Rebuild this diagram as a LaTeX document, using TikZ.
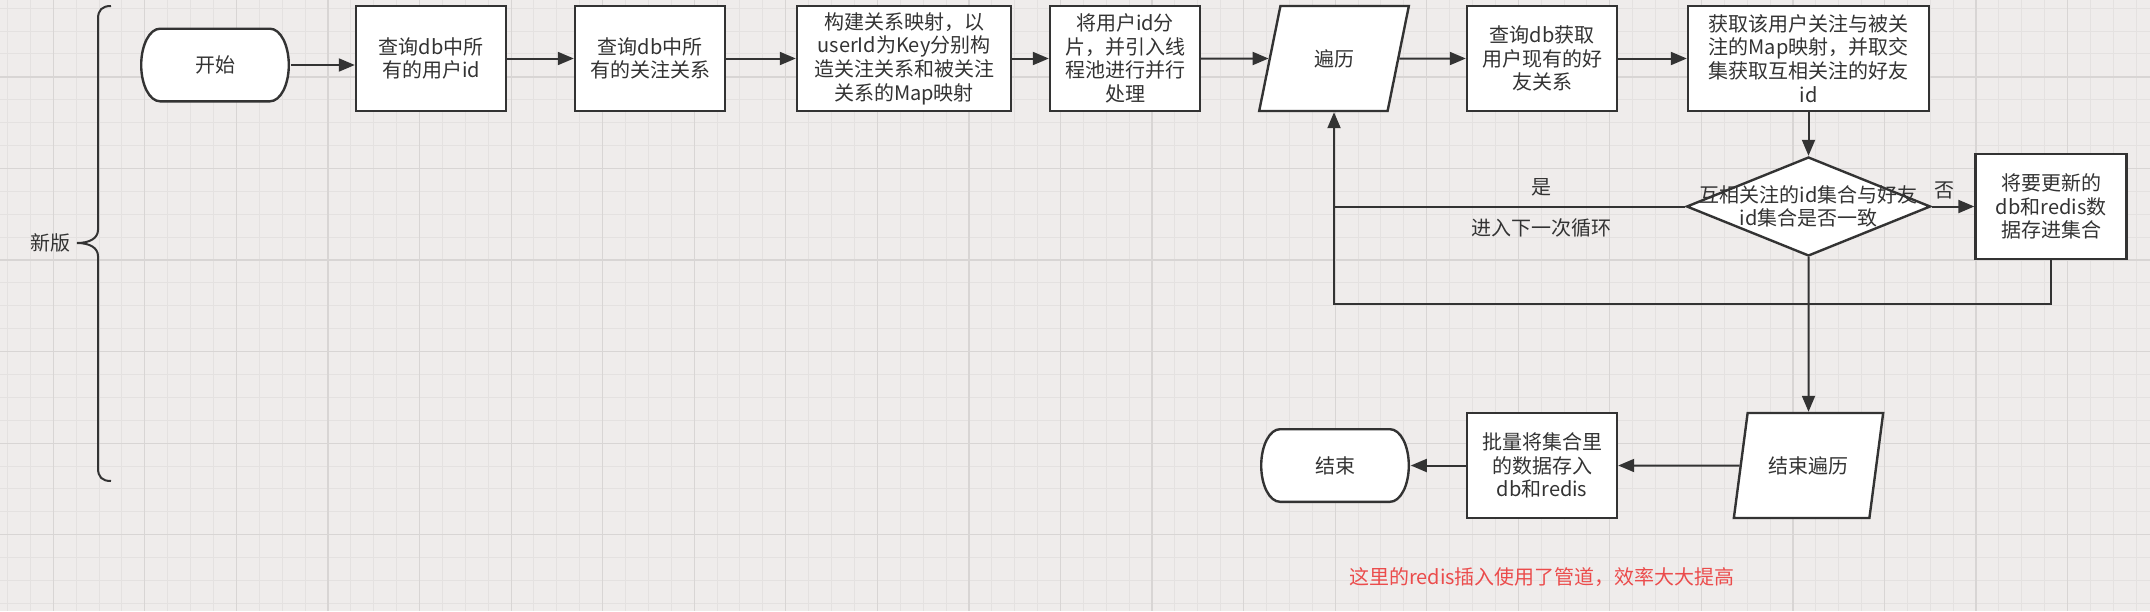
\documentclass[tikz,border=0pt]{standalone}
\usepackage{fontspec}
\setmainfont{Noto Sans CJK SC}
\usetikzlibrary{arrows.meta,positioning,shapes.geometric}

\definecolor{bggray}{RGB}{239,236,235}
\definecolor{gridminor}{RGB}{228,225,224}
\definecolor{gridmajor}{RGB}{216,213,212}
\definecolor{linegray}{RGB}{51,51,51}
\definecolor{notered}{RGB}{235,76,76}

\begin{document}
\begin{tikzpicture}[thick,node distance=108pt,>={Triangle[length=8pt,width=6.5pt]},text=linegray,font=\fontsize{10pt}{11.85pt}\selectfont]

\tikzstyle{proc}=[draw=linegray,line width=1.2pt,fill=white,align=center,minimum width=75pt,minimum height=52.5pt,inner sep=1pt]
\tikzstyle{term}=[minimum width=75pt,minimum height=37.5pt,path picture={
  \draw[linegray,line width=1.2pt,fill=white]
    ([xshift=10pt,yshift=-0.6pt]path picture bounding box.north west) -- ([xshift=-10pt,yshift=-0.6pt]path picture bounding box.north east)
    arc[start angle=90,end angle=-90,x radius=9.4pt,y radius=18.15pt]
    -- ([xshift=10pt,yshift=0.6pt]path picture bounding box.south west)
    arc[start angle=270,end angle=90,x radius=9.4pt,y radius=18.15pt] -- cycle;}]
\tikzstyle{io}=[trapezium,trapezium left angle=71.6,trapezium right angle=108.4,trapezium stretches=true,draw=linegray,line width=1.2pt,fill=white,minimum width=75pt,minimum height=52.5pt]
\tikzstyle{cond}=[diamond,draw=linegray,line width=1.2pt,fill=white,minimum width=122pt,minimum height=49.5pt,inner sep=0pt]
\tikzstyle{flow}=[->,draw=linegray,line width=1pt]

%background grid
\useasboundingbox (0,0) rectangle (1075pt,-305.5pt);
\fill[bggray] (0,0) rectangle (1075pt,-305.5pt);
\begin{scope}[x=0.5pt,y=-0.5pt]
\foreach \i in {0,...,93} \draw[gridminor,line width=0.5pt] ({7.5+22.89*\i},0) -- ({7.5+22.89*\i},611);
\foreach \j in {0,...,26} \draw[gridminor,line width=0.5pt] (0,{8.2+22.89*\j}) -- (2150,{8.2+22.89*\j});
\foreach \i in {0,...,22} \draw[gridmajor,line width=0.6pt] ({53.3+91.56*\i},0) -- ({53.3+91.56*\i},611);
\foreach \j in {0,...,5} \draw[gridmajor,line width=0.6pt] (0,{76.9+91.56*\j}) -- (2150,{76.9+91.56*\j});
\end{scope}

%main row
\node[term] (start) at (107.5pt,-32.5pt) {开始};
\node[proc] (qusers) [right of=start,yshift=3.25pt] {查询db中所\\有的用户id};
\node[proc] (qfollow) [right of=qusers,node distance=109.5pt] {查询db中所\\有的关注关系};
\node[proc,minimum width=107pt] (buildmap) [right of=qfollow,node distance=127pt] {构建关系映射，以\\userId为Key分别构\\造关注关系和被关注\\关系的Map映射};
\node[proc] (shard) [right of=buildmap,node distance=110.5pt] {将用户id分\\片，并引入线\\程池进行并行\\处理};
\node[io] (loop) [right of=shard,node distance=104.5pt] {遍历};
\node[proc] (qfriend) [right of=loop,node distance=104pt] {查询db获取\\用户现有的好\\友关系};
\node[proc,minimum width=120.5pt] (mutual) [right of=qfriend,node distance=133.25pt] {获取该用户关注与被关\\注的Map映射，并取交\\集获取互相关注的好友\\id};

\draw[flow] (start.east) -- (start.east -| qusers.west);
\draw[flow] (qusers) -- (qfollow);
\draw[flow] (qfollow) -- (buildmap);
\draw[flow] (buildmap) -- (shard);
\draw[flow] (shard) -- (loop);
\draw[flow] (loop) -- (qfriend);
\draw[flow] (qfriend) -- (mutual);

%check and update
\node[cond] (check) [below of=mutual,node distance=74pt] {};
\node[align=center] (checktxt) at (check) {互相关注的id集合与好友\\id集合是否一致};
\node[proc,minimum width=75.5pt] (collect) [right of=check,node distance=121.25pt] {将要更新的\\db和redis数\\据存进集合};

\coordinate (turn) at (check.west -| loop.south);
\coordinate (merge) at ([yshift=-22pt]collect.south -| loop.south);

\draw[flow] (mutual) -- (check);
\draw[flow] (check) -- node[above,pos=0.3] {否} (collect);
\draw[flow] (check.west) -- node[above=1.5pt,pos=0.41] {是} node[below=2.5pt,pos=0.41] {进入下一次循环} (turn) -- (loop.south);
\draw[linegray,line width=1pt] (collect.south) |- (merge) -- (turn);

%end of loop
\node[io] (loopend) [below of=check,node distance=129.5pt] {结束遍历};
\node[proc] (batch) [left of=loopend,node distance=133.25pt] {批量将集合里\\的数据存入\\db和redis};
\node[term] (end) [left of=batch,node distance=103.5pt] {结束};
\node[text=notered] (note) [below of=batch,node distance=55.75pt] {这里的redis插入使用了管道，效率大大提高};

\draw[flow] (check) -- (loopend);
\draw[flow] (loopend) -- (batch);
\draw[flow] (batch) -- (end);

%brace
\node (newver) at (25.5pt,-121.5pt) {新版};
\begin{scope}[x=0.5pt,y=-0.5pt]
\draw[linegray,line width=1pt] (111,6) .. controls (102,6) and (98,10) .. (98,19) -- (98,230) .. controls (98,238) and (90,243) .. (77,243) .. controls (90,243) and (98,248) .. (98,256) -- (98,468) .. controls (98,477) and (102,481) .. (111,481);
\end{scope}

\end{tikzpicture}
\end{document}
